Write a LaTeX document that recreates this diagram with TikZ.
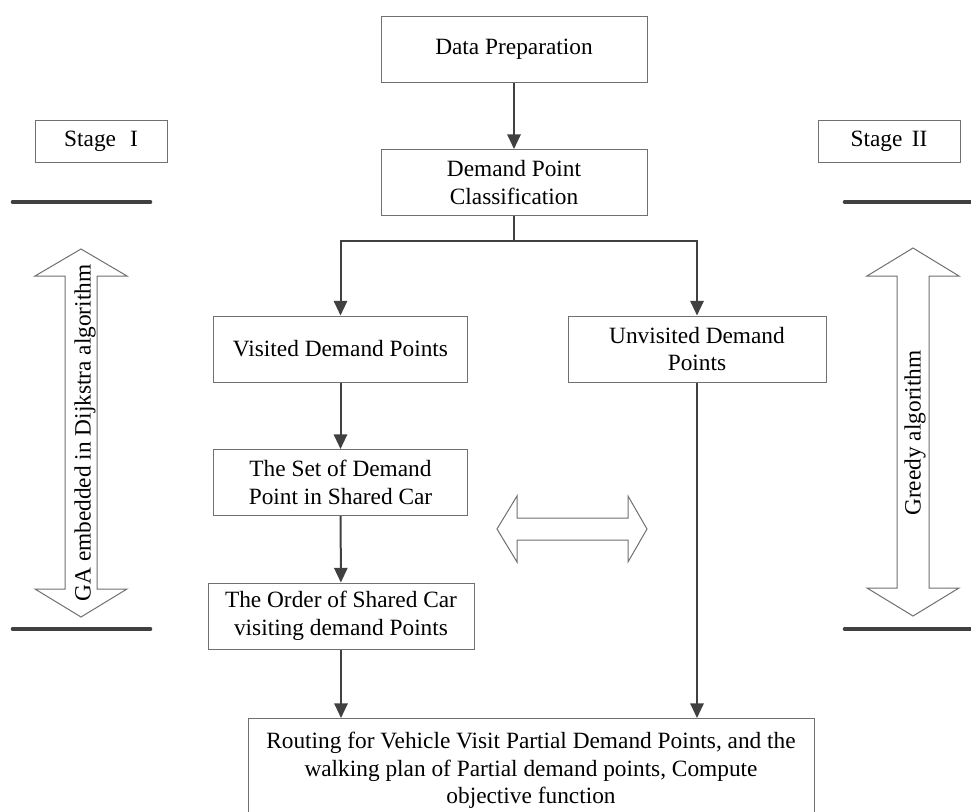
\documentclass[tikz,border=0pt]{standalone}
\usepackage{fontspec}
\setmainfont{Liberation Serif}
\usetikzlibrary{arrows.meta}
\definecolor{lineGray}{RGB}{64,64,64}
\definecolor{frameGray}{RGB}{112,112,112}

\begin{document}
\begin{tikzpicture}[x=0.75pt,y=0.75pt,yscale=-1,xscale=1,
  font=\fontsize{17.5}{20.8}\selectfont,
  box/.style={draw=frameGray,line width=0.75pt,align=center,inner sep=0pt,minimum width=199.5pt,minimum height=49.5pt},
  flow/.style={draw=lineGray,line width=1.5pt,-{Triangle[length=11pt,width=10pt]}},
  link/.style={draw=lineGray,line width=1.5pt},
  rule/.style={draw=lineGray,line width=3.5pt,line cap=round},
  hollow/.style={draw=frameGray,line width=0.75pt,fill=white}]
\useasboundingbox (0,0) rectangle (971,811);

%Shape: Up Down Arrow [left]
\draw[hollow] (81,249) -- (127,276) -- (97,276) -- (97,589) -- (127,589) -- (81,617) -- (35,589) -- (65,589) -- (65,276) -- (35,276) -- cycle ;
%Shape: Up Down Arrow [right]
\draw[hollow] (913,248) -- (959,276) -- (929,276) -- (929,588) -- (959,588) -- (913,616) -- (867,588) -- (897,588) -- (897,276) -- (867,276) -- cycle ;
%Shape: Left Right Arrow
\draw[hollow] (497,529) -- (517,496) -- (517,518) -- (628,518) -- (628,496) -- (647,529) -- (628,562) -- (628,540) -- (517,540) -- (517,562) -- cycle ;

%Straight Lines
\draw[rule] (13,202) -- (150,202) ;
\draw[rule] (845,202) -- (980,202) ;
\draw[rule] (13,629) -- (150,629) ;
\draw[rule] (845,629) -- (980,629) ;

% Text Node
\node[box] (prep) at (514,49) {Data Preparation};
% Text Node
\node[box] (classify) at (514,182.5) {Demand Point\\Classification};
% Text Node
\node[box,minimum width=190pt] (visited) at (340.5,349) {Visited Demand Points};
% Text Node
\node[box,minimum width=193.5pt] (unvisited) at (697,349) {Unvisited Demand\\Points};
% Text Node
\node[box,minimum width=190pt] (carset) at (340.5,482.5) {The Set of Demand\\Point in Shared Car};
% Text Node
\node[box] (order) at (341,616) {The Order of Shared Car\\visiting demand Points};
% Text Node
\node[box,minimum width=424.5pt,anchor=north,inner ysep=10pt] (final) at (531,718) {Routing for Vehicle Visit Partial Demand Points, and the\\walking plan of Partial demand points, Compute\\objective function};
% Text Node
\node[box,minimum width=99pt,minimum height=31pt] (stageone) at (101,141.5) {Stage\hspace{0.6em}I};
% Text Node
\node[box,minimum width=106.5pt,minimum height=31pt] (stagetwo) at (889,141.5) {Stage\hspace{0.4em}II};
% Text Node
\node[rotate=90] (galabel) at (85,433) {GA embedded in Dijkstra algorithm};
% Text Node
\node[rotate=90] (greedylabel) at (915,433) {Greedy algorithm};

%Connectors
\coordinate (split) at (514,241);
\draw[flow] (prep) -- (classify) ;
\draw[link] (classify) -- (split) ;
\draw[flow] (split) -| (visited) ;
\draw[flow] (split) -| (unvisited) ;
\draw[flow] (visited) -- (carset) ;
\draw[flow] (carset) -- (order) ;
\draw[flow] (order) -- (order |- final.north) ;
\draw[flow] (unvisited) -- (unvisited |- final.north) ;

\end{tikzpicture}
\end{document}
